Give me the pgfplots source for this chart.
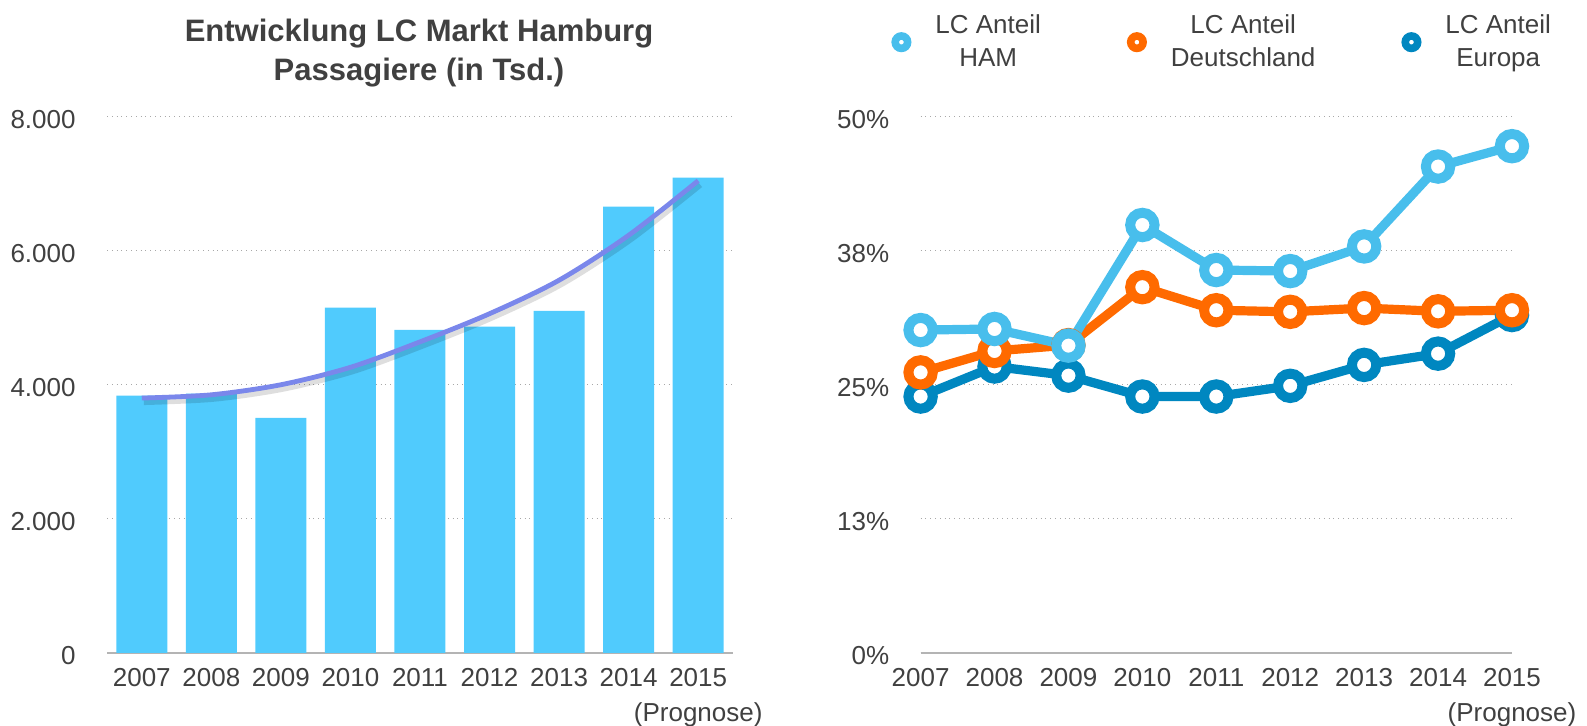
\documentclass[border=0pt]{standalone}
\usepackage{fontspec}
\setmainfont{Liberation Sans}
\usepackage{pgfplots}
\pgfplotsset{compat=1.18}
\definecolor{barblue}{HTML}{50CBFD}
\definecolor{trend}{HTML}{7A87EB}
\definecolor{ham}{HTML}{48BEEC}
\definecolor{de}{HTML}{FF6A00}
\definecolor{eu}{HTML}{0087C0}
\definecolor{txt}{HTML}{404040}
\definecolor{gridc}{HTML}{A8A8A8}
\definecolor{axc}{HTML}{B4B4B4}
\pgfplotsset{
 base/.style={
  scale only axis, height=268.05pt, ymin=0,
  xtick={0,...,8},
  xticklabels={2007,2008,2009,2010,2011,2012,2013,2014,{2015\\(Prognose)}},
  axis x line*=bottom, axis y line*=left,
  y axis line style={draw=none},
  x axis line style={draw=axc, line width=1pt, -},
  major tick length=0pt, tick style={draw=none},
  ymajorgrids, grid style={gridc, dotted, line width=0.7pt},
  tick label style={text=txt, font=\fontsize{13}{17.5}\selectfont},
  xticklabel style={align=center, inner sep=0pt, anchor=north, yshift=-7.5pt},
  yticklabel style={anchor=east, inner sep=0pt, xshift=-15.5pt, yshift=-1.5pt},
  /pgf/number format/assume math mode=true,
 }
}
\begin{document}
\begin{tikzpicture}
\useasboundingbox (0,0) rectangle (793.5pt,363pt);
\node[anchor=base, text=txt, font=\fontsize{15.5}{18}\selectfont\bfseries] at (209.5pt,342.15pt) {Entwicklung LC Markt Hamburg};
\node[anchor=base, text=txt, font=\fontsize{15.5}{18}\selectfont\bfseries] at (209.5pt,322.5pt) {Passagiere (in Tsd.)};
\begin{axis}[base, at={(53.5pt,36.6pt)}, anchor=south west, width=313pt,
  xmin=-0.5, xmax=8.5, ymax=8000,
  ytick={0,2000,4000,6000,8000}, yticklabels={0,{2.000},{4.000},{6.000},{8.000}}]
\addplot[ybar, fill=barblue, draw=none, bar width=25.5pt] coordinates {
 (0,3837) (1,3869) (2,3507) (3,5150) (4,4820) (5,4866) (6,5103) (7,6657) (8,7091)};
\addplot[black, opacity=0.13, line width=3pt, smooth, yshift=-2pt, xshift=1pt] coordinates {
 (0,3801) (1,3850) (2,4000) (3,4260) (4,4640) (5,5060) (6,5560) (7,6230) (8,7045)};
\addplot[trend, line width=2.4pt, smooth] coordinates {
 (0,3801) (1,3850) (2,4000) (3,4260) (4,4640) (5,5060) (6,5560) (7,6230) (8,7045)};
\end{axis}
\begin{axis}[base, at={(460.3pt,36.6pt)}, anchor=south west, width=295.7pt,
  xmin=0, xmax=8, ymax=50, clip=false,
  ytick={0,12.5,25,37.5,50}, yticklabels={0\%,13\%,25\%,38\%,50\%},
  reverse legend, legend cell align=center,
  legend style={at={(-0.05,1.139)}, anchor=west, draw=none, fill=none,
    legend columns=3, inner sep=0pt, font=\fontsize{13}{16.3}\selectfont, text=txt,
    cells={align=center},
    /tikz/every odd column/.append style={column sep=10pt},
    /tikz/every even column/.append style={column sep=41pt}}]
\addplot[eu, line width=4.6pt, mark=*, mark size=6.1pt, mark options={fill=white, draw=eu, line width=5pt},
  legend image code/.code={\draw[draw=eu, line width=3.8pt, fill=white] (0pt,0pt) circle (3.1pt);}]
 coordinates {(0,23.9) (1,26.7) (2,25.85) (3,23.9) (4,23.9) (5,24.9) (6,26.85) (7,27.9) (8,31.5)};
\addlegendentry{LC Anteil\\Europa}
\addplot[de, line width=4.6pt, mark=*, mark size=6.1pt, mark options={fill=white, draw=de, line width=5pt},
  legend image code/.code={\draw[draw=de, line width=3.8pt, fill=white] (0pt,0pt) circle (3.1pt);}]
 coordinates {(0,26.15) (1,28.15) (2,28.7) (3,34.1) (4,31.95) (5,31.8) (6,32.15) (7,31.85) (8,31.95)};
\addlegendentry{LC Anteil\\Deutschland}
\addplot[ham, line width=4.6pt, mark=*, mark size=6.1pt, mark options={fill=white, draw=ham, line width=5pt},
  legend image code/.code={\draw[draw=ham, line width=3.8pt, fill=white] (0pt,0pt) circle (3.1pt);}]
 coordinates {(0,30.1) (1,30.2) (2,28.65) (3,39.9) (4,35.7) (5,35.6) (6,37.9) (7,45.35) (8,47.25)};
\addlegendentry{LC Anteil\\HAM}
\end{axis}
\end{tikzpicture}
\end{document}
